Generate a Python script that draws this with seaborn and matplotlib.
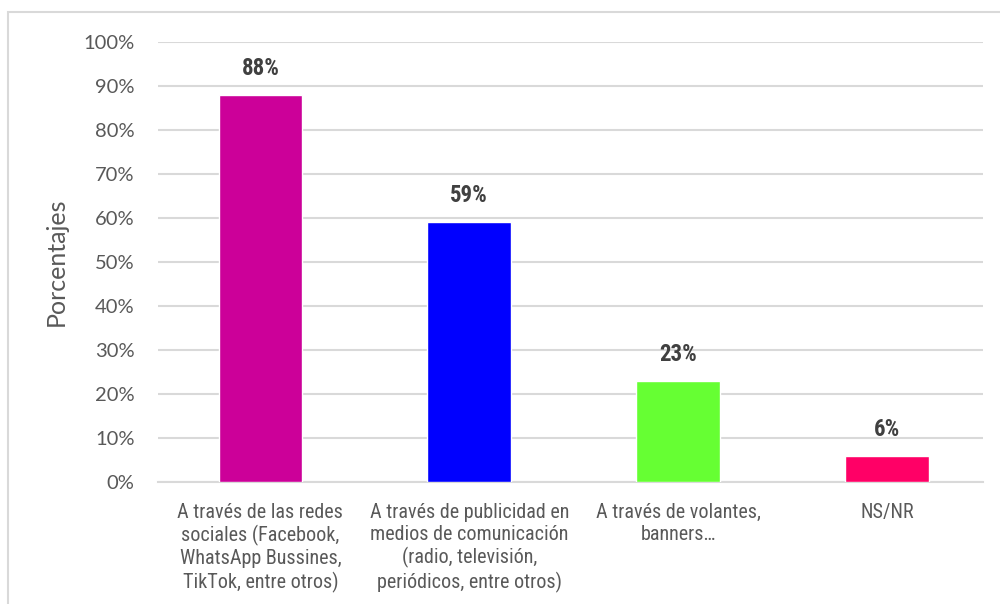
import matplotlib
matplotlib.use("Agg")
import matplotlib.pyplot as plt
from matplotlib import font_manager
from matplotlib.patches import Rectangle
from matplotlib.ticker import FuncFormatter, MultipleLocator
import pandas as pd
import seaborn as sns

# Survey results: how people heard about the service
categories = [
    "A través de las redes\nsociales (Facebook,\nWhatsApp Bussines,\nTikTok, entre otros)",
    "A través de publicidad en\nmedios de comunicación\n(radio, televisión,\nperiódicos, entre otros)",
    "A través de volantes,\nbanners…",
    "NS/NR",
]
percentages = [88, 59, 23, 6]
bar_colors = ["#CC0099", "#0000FF", "#66FF33", "#FF0066"]

df = pd.DataFrame({"categoria": categories, "porcentaje": percentages})

sns.set_theme(style="white")

installed = {f.name for f in font_manager.fontManager.ttflist}
narrow, narrow_scale = "Roboto", 0.9
for name in ("Liberation Sans Narrow", "Arial Narrow", "Roboto Condensed"):
    if name in installed:
        narrow, narrow_scale = name, 1.0
        break
body = "Lato"

fig = plt.figure(figsize=(10, 6.04), dpi=100)
ax = fig.add_axes([0.158, 0.202, 0.825, 0.7285])

sns.barplot(
    data=df, x="categoria", y="porcentaje", hue="categoria",
    palette=bar_colors, legend=False, width=0.4, saturation=1,
    ax=ax, zorder=3,
)

ax.set_ylim(0, 100)
ax.set_xlim(-0.49, 3.46)
ax.yaxis.set_major_locator(MultipleLocator(10))
ax.yaxis.set_major_formatter(FuncFormatter(lambda v, _: f"{v:.0f}%"))
ax.grid(axis="y", color="#D9D9D9", linewidth=1.5, zorder=0)
ax.grid(axis="x", visible=False)

for side in ("top", "right", "left"):
    ax.spines[side].set_visible(False)
ax.spines["bottom"].set_color("#D9D9D9")
ax.spines["bottom"].set_linewidth(1.5)

ax.tick_params(axis="y", length=0, pad=17, labelsize=14.5, labelcolor="#595959")
ax.tick_params(axis="x", length=0, pad=15)
for lbl in ax.get_yticklabels():
    lbl.set_fontfamily(body)
for lbl in ax.get_xticklabels():
    lbl.set_fontfamily(narrow)
    lbl.set_fontsize(14.5 * narrow_scale)
    lbl.set_color("#595959")
    lbl.set_linespacing(1.2)

ax.set_xlabel("")
ax.set_ylabel("Porcentajes", fontsize=18, color="#595959", family=body)
ax.yaxis.set_label_coords(-0.109, 0.5)

# value labels above each bar
for i, v in enumerate(percentages):
    ax.annotate(f"{v}%", xy=(i, v), xytext=(0, 19), textcoords="offset points",
                ha="center", va="center", fontsize=16.5 * narrow_scale,
                fontweight="bold", color="#404040", family=narrow)

# chart-area frame
fig.patches.append(Rectangle((0.008, -0.1), 1.2, 0.98 + 0.1, transform=fig.transFigure,
                             fill=False, edgecolor="#D9D9D9", linewidth=1.5))

fig.savefig("out.png", dpi=100)
